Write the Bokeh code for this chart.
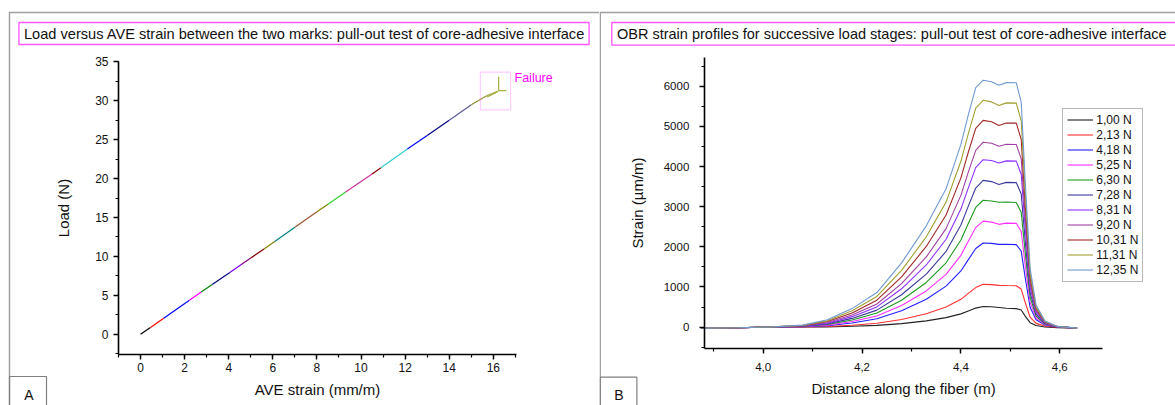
from bokeh.plotting import figure
from bokeh.layouts import row
from bokeh.models import (Range1d, FixedTicker, CustomJSTickFormatter, BoxAnnotation,
                          Label, Legend, LegendItem)
from bokeh.embed import file_html
from bokeh.resources import INLINE

FONT = "Liberation Sans"

# ---------------- Panel A data: load versus AVE strain ----------------
ave_strain = [0.00, 0.45, 1.05, 2.20, 2.75, 3.25, 4.05, 4.60, 5.00, 5.60, 6.10, 7.00,
              8.00, 8.50, 9.30, 10.50, 10.90, 12.10, 13.00, 14.00, 15.00, 15.70, 16.24]
load_n = [0.00, 0.88, 2.07, 4.34, 5.42, 6.40, 7.95, 9.02, 9.80, 10.97, 11.95, 13.75,
          15.75, 16.72, 18.27, 20.60, 21.40, 23.80, 25.55, 27.50, 29.50, 30.65, 31.30]
segment_colors = ["#000000", "#FF0000", "#0000FF", "#FF00FF", "#008000", "#000080",
                  "#8000FF", "#800080", "#800000", "#808000", "#008080", "#A0522D",
                  "#808000", "#33CC33", "#CC3399", "#800000", "#33CCCC", "#0000FF",
                  "#000080", "#5A5A9A", "#909030", "#A0A040"]
failure_xs = [[16.24, 16.24], [16.24, 16.59], [15.72, 16.18]]
failure_ys = [[31.30, 33.10], [31.30, 31.30], [30.50, 31.15]]
x_ticks_a = [0, 2, 4, 6, 8, 10, 12, 14, 16]
y_ticks_a = [0, 5, 10, 15, 20, 25, 30, 35]

# ---------------- Panel B data: OBR strain profiles ----------------
distance = [3.875, 3.95, 4.02, 4.08, 4.13, 4.18, 4.23, 4.28, 4.33, 4.37, 4.40, 4.415, 4.43,
            4.445, 4.462, 4.477, 4.492, 4.512, 4.522, 4.53, 4.54, 4.552, 4.57, 4.595, 4.635]
strain_1_00 = [-25, -15, 0, 3, 6, 21, 44, 88, 155, 237, 330, 402, 474, 515, 508, 490, 470, 460, 425, 275, 110, 40, 5, -15, -25]
strain_2_13 = [-25, -15, 2, 6, 15, 46, 96, 190, 331, 500, 692, 839, 985, 1065, 1058, 1040, 1035, 1030, 948, 618, 247, 93, 26, 0, -25]
strain_4_18 = [-25, -15, 3, 12, 36, 104, 210, 409, 693, 1022, 1399, 1681, 1957, 2095, 2085, 2060, 2065, 2055, 1895, 1236, 494, 185, 52, 6, -25]
strain_5_25 = [-25, -15, 3, 16, 50, 140, 279, 538, 901, 1315, 1789, 2139, 2479, 2640, 2615, 2560, 2590, 2585, 2383, 1554, 622, 233, 65, 8, -25]
strain_6_30 = [-25, -15, 4, 20, 64, 178, 350, 671, 1112, 1602, 2171, 2583, 2981, 3160, 3140, 3110, 3115, 3105, 2861, 1866, 746, 280, 78, 9, -25]
strain_7_28 = [-25, -15, 4, 24, 80, 217, 423, 807, 1320, 1884, 2543, 3014, 3464, 3655, 3625, 3550, 3605, 3600, 3317, 2163, 865, 324, 90, 11, -25]
strain_8_31 = [-25, -15, 5, 29, 98, 261, 503, 955, 1548, 2188, 2940, 3469, 3972, 4170, 4150, 4090, 4140, 4135, 3809, 2484, 994, 373, 104, 12, -25]
strain_9_20 = [-25, -15, 5, 33, 115, 301, 575, 1083, 1748, 2453, 3282, 3859, 4404, 4605, 4580, 4505, 4555, 4550, 4191, 2733, 1093, 410, 114, 14, -25]
strain_10_31 = [-25, -15, 6, 38, 138, 354, 671, 1251, 2009, 2792, 3718, 4356, 4950, 5150, 5115, 5020, 5085, 5080, 4678, 3051, 1220, 458, 127, 15, -25]
strain_11_31 = [-25, -15, 6, 44, 160, 406, 763, 1413, 2249, 3113, 4130, 4819, 5455, 5650, 5610, 5520, 5585, 5580, 5138, 3351, 1340, 503, 140, 17, -25]
strain_12_35 = [-25, -15, 7, 49, 185, 461, 861, 1599, 2522, 3444, 4551, 5289, 5966, 6150, 6110, 6025, 6090, 6085, 5603, 3654, 1462, 548, 152, 18, -25]
stage_labels = ["1,00 N", "2,13 N", "4,18 N", "5,25 N", "6,30 N", "7,28 N",
                "8,31 N", "9,20 N", "10,31 N", "11,31 N", "12,35 N"]
stage_profiles = [strain_1_00, strain_2_13, strain_4_18, strain_5_25, strain_6_30, strain_7_28,
                  strain_8_31, strain_9_20, strain_10_31, strain_11_31, strain_12_35]
stage_colors = ["#222222", "#FF3030", "#2020FF", "#FF30FF", "#1E9A1E", "#3A3A9A",
                "#9030FF", "#A040A0", "#A02828", "#A0A030", "#6E9AD0"]
x_ticks_b = [4.0, 4.2, 4.4, 4.6]
x_minor_b = [3.9, 4.0, 4.1, 4.2, 4.3, 4.4, 4.5, 4.6]
y_ticks_b = [0, 1000, 2000, 3000, 4000, 5000, 6000]

H = 405


def full_ranges(W, left_px, right_px, top_px, bottom_px, x0, x1, y0, y1):
    """Frame covers whole canvas; axes box (in px) maps to data bounds."""
    sx = (right_px - left_px) / (x1 - x0)
    sy = (bottom_px - top_px) / (y1 - y0)
    xs = x0 - left_px / sx
    xe = xs + W / sx
    ye = y1 + top_px / sy
    ys = ye - H / sy
    return Range1d(xs, xe), Range1d(ys, ye)


def style_axes(p, xb, yb, tick_size, label_size, x_std, x_lstd, y_std, y_lstd):
    p.xaxis[0].fixed_location = yb[0]
    p.xaxis[0].bounds = xb
    p.yaxis[0].fixed_location = xb[0]
    p.yaxis[0].bounds = yb
    for ax in (p.xaxis[0], p.yaxis[0]):
        ax.axis_line_width = 1.6
        ax.axis_line_color = "black"
        ax.major_tick_line_width = 1.4
        ax.minor_tick_line_width = 1.2
        ax.major_tick_out = 5
        ax.major_tick_in = 0
        ax.minor_tick_out = 3
        ax.minor_tick_in = 0
        ax.major_label_text_font = FONT
        ax.major_label_text_font_size = tick_size
        ax.major_label_text_color = "#111111"
        ax.axis_label_text_font = FONT
        ax.axis_label_text_font_size = label_size
        ax.axis_label_text_font_style = "normal"
        ax.axis_label_text_color = "#111111"
    p.xaxis[0].major_label_standoff = x_std
    p.xaxis[0].axis_label_standoff = x_lstd
    p.yaxis[0].major_label_standoff = y_std
    p.yaxis[0].axis_label_standoff = y_lstd
    p.xgrid.visible = False
    p.ygrid.visible = False
    p.outline_line_color = None


def sbox(p, left, right, top, bottom, color, width):
    # screen units: x from the left edge, y from the bottom edge of the (full-canvas) frame
    p.add_layout(BoxAnnotation(left=left, right=right, top=H - top, bottom=H - bottom,
                               left_units="screen", right_units="screen",
                               top_units="screen", bottom_units="screen",
                               fill_alpha=0, line_color=color, line_width=width, line_alpha=1))


def stext(p, x, y, text, size, align="left", color="#111111"):
    p.add_layout(Label(x=x, y=H - y, x_units="screen", y_units="screen", text=text,
                       text_font=FONT, text_font_size=size, text_color=color,
                       text_baseline="middle", text_align=align))


def make_fig(W, xr, yr):
    return figure(width=W, height=H, output_backend="svg", toolbar_location=None,
                  x_range=xr, y_range=yr, min_border=0,
                  min_border_left=0, min_border_right=0, min_border_top=0, min_border_bottom=0,
                  background_fill_color="white", border_fill_color="white")


# ================= Panel A =================
WA = 599
xb_a, yb_a = (-1.0, 17.05), (-2.6, 35.05)
xr, yr = full_ranges(WA, 118, 516, 61, 354, xb_a[0], xb_a[1], yb_a[0], yb_a[1])
pa = make_fig(WA, xr, yr)
pa.xaxis[0].ticker = FixedTicker(ticks=x_ticks_a, minor_ticks=list(range(-1, 18)))
pa.yaxis[0].ticker = FixedTicker(ticks=y_ticks_a, minor_ticks=[v / 2 for v in range(-5, 71, 5)])
pa.xaxis[0].axis_label = "AVE strain (mm/m)"
pa.yaxis[0].axis_label = "Load (N)"
style_axes(pa, xb_a, yb_a, "12px", "15px", 3, 6, 5, 20)

pa.segment(x0=ave_strain[:-1], y0=load_n[:-1], x1=ave_strain[1:], y1=load_n[1:],
           line_color=segment_colors, line_width=1.2)
pa.multi_line(xs=failure_xs, ys=failure_ys, line_color="#A8B040", line_width=1.2)

pa.add_layout(BoxAnnotation(left=15.41, right=16.78, bottom=28.83, top=33.68,
                            fill_alpha=0, line_color="#FF55FF", line_width=1.2))
pa.add_layout(Label(x=16.96, y=32.9, text="Failure", text_font=FONT, text_font_size="12.5px",
                    text_color="#FF00FF", text_baseline="middle", text_align="left"))

sbox(pa, 9, 700, 12, 500, "#A0A0A0", 1.5)
sbox(pa, 18.4, 588.6, 22, 44, "#FF55FF", 1.3)
stext(pa, 23.5, 33.5, "Load versus AVE strain between the two marks: pull-out test of core-adhesive interface", "14.6px")
sbox(pa, 9, 46, 376, 500, "#808080", 1.2)
stext(pa, 28.3, 394, "A", "14px", align="center")

# ================= Panel B =================
WB = 576
xb_b, yb_b = (3.881, 4.686), (-540, 6723)
xr, yr = full_ranges(WB, 104.8, 502.8, 56.7, 348.3, xb_b[0], xb_b[1], yb_b[0], yb_b[1])
pb = make_fig(WB, xr, yr)
pb.xaxis[0].ticker = FixedTicker(ticks=x_ticks_b, minor_ticks=x_minor_b)
pb.xaxis[0].formatter = CustomJSTickFormatter(code="return tick.toFixed(1).replace('.', ',');")
pb.yaxis[0].ticker = FixedTicker(ticks=y_ticks_b, minor_ticks=list(range(-500, 6600, 500)))
pb.xaxis[0].axis_label = "Distance along the fiber (m)"
pb.yaxis[0].axis_label = "Strain (\u00b5m/m)"
style_axes(pb, xb_b, yb_b, "11.5px", "15px", 9, 6, 10, 15)

items = []
for lab, prof, col in zip(stage_labels, stage_profiles, stage_colors):
    r = pb.line(distance, prof, line_color=col, line_width=1.1)
    items.append(LegendItem(label=lab, renderers=[r]))

legend = Legend(items=items, location=(463.3, H - 281.7), orientation="vertical",
                border_line_color="#707070", border_line_width=1.3, background_fill_color="white",
                background_fill_alpha=1, label_text_font=FONT, label_text_font_size="12px",
                label_text_color="#111111", glyph_width=26, glyph_height=13, label_height=13,
                label_standoff=3, spacing=1, padding=4, margin=0)
pb.add_layout(legend)

sbox(pb, 0.75, 700, 12, 500, "#A0A0A0", 1.5)
sbox(pb, 12.3, 700, 22, 44.7, "#FF55FF", 1.3)
stext(pb, 17.5, 33.5, "OBR strain profiles for successive load stages: pull-out test of core-adhesive interface", "14.5px")
sbox(pb, 0.75, 37.4, 376.7, 500, "#808080", 1.2)
stext(pb, 19.5, 394, "B", "14px", align="center")

layout = row(pa, pb)
open("out.html", "w").write(file_html(layout, INLINE))
